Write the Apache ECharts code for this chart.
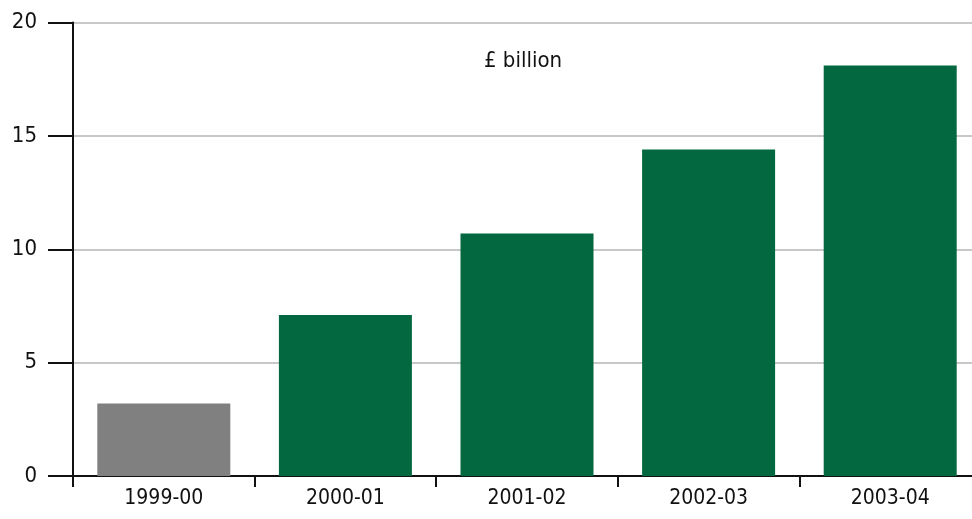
<!DOCTYPE html>
<html>
<head>
<meta charset="utf-8">
<script src="https://cdn.jsdelivr.net/npm/echarts@6/dist/echarts.min.js"></script>
<style>
  html, body { margin: 0; padding: 0; background: #fff; }
  #chart { width: 972px; height: 519px; }
</style>
</head>
<body>
<div id="chart"></div>
<script>
// Annual spending, £ billion
const years = ['1999-00', '2000-01', '2001-02', '2002-03', '2003-04'];
const values = [3.2, 7.1, 10.7, 14.4, 18.1];
const barColors = ['#808080', '#03683f', '#03683f', '#03683f', '#03683f'];
const yTicks = { min: 0, max: 20, interval: 5 };
const unitLabel = '£ billion';

const font = '"DejaVu Sans Condensed", "Liberation Sans Narrow", sans-serif';

const chart = echarts.init(document.getElementById('chart'), null, { renderer: 'canvas' });
chart.setOption({
  animation: false,
  backgroundColor: '#ffffff',
  // the last category runs slightly past the right edge of the canvas
  grid: { left: 73, width: 908, top: 22.5, bottom: 43, containLabel: false, outerBoundsMode: 'none' },
  graphic: [{
    type: 'text',
    left: 484,
    top: 50,
    style: { text: unitLabel, font: '22px ' + font, fill: '#111' }
  }],
  xAxis: {
    type: 'category',
    data: years,
    boundaryGap: true,
    axisLine: { show: true, lineStyle: { color: '#111', width: 2 } },
    axisTick: { show: true, length: 11, lineStyle: { color: '#111', width: 2 } },
    axisLabel: { color: '#111', fontFamily: font, fontSize: 21, margin: 12 },
    splitLine: { show: false }
  },
  yAxis: {
    type: 'value',
    min: yTicks.min,
    max: yTicks.max,
    interval: yTicks.interval,
    axisLine: { show: true, lineStyle: { color: '#111', width: 2 } },
    axisTick: { show: true, length: 25, lineStyle: { color: '#111', width: 2 } },
    axisLabel: { color: '#111', fontFamily: font, fontSize: 22, margin: 36 },
    splitLine: { show: true, lineStyle: { color: '#c8c8c8', width: 2 } }
  },
  series: [{
    type: 'bar',
    data: values.map((v, i) => ({ value: v, itemStyle: { color: barColors[i] } })),
    barWidth: 133,
    z: 3
  }]
});
</script>
</body>
</html>
